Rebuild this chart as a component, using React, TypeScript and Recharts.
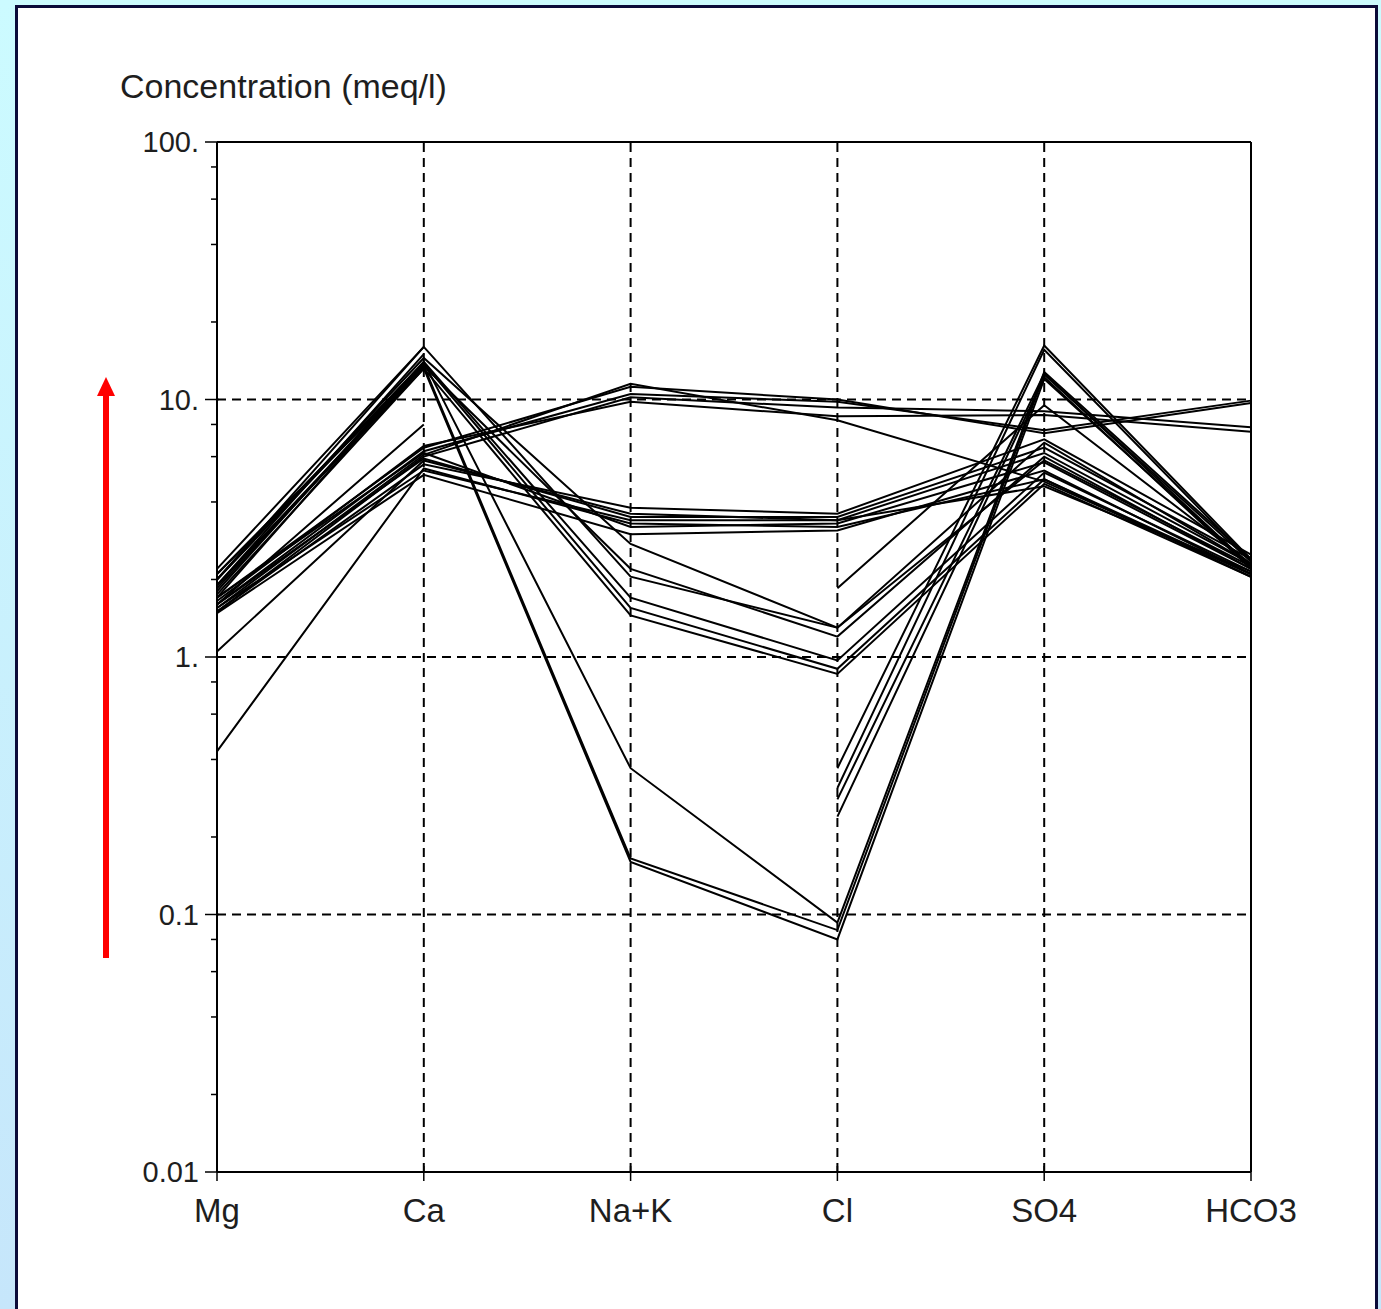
import { LineChart, Line, XAxis, YAxis, ReferenceLine } from "recharts";

const categories = ["Mg", "Ca", "Na+K", "Cl", "SO4", "HCO3"];

// concentrations in meq/l, in the order of categories (null = not analysed)
// high Ca, very low Na+K / Cl
const sA1 = [2.1, 13.5, 0.165, 0.087, 12.5, 2.35];
const sA2 = [1.9, 13.2, 0.16, 0.08, 12.0, 2.25];
const sA3 = [2.0, 14.0, 0.37, 0.093, 12.8, 2.4];
// high Ca, Na+K 1.4 - 2.8
const sB1 = [2.0, 14.5, 2.75, 1.3, 6.8, 2.3];
const sB2 = [1.9, 13.5, 2.2, 1.2, 6.0, 2.2];
const sB3 = [2.2, 16.0, 2.05, 1.3, 5.8, 2.25];
const sB4 = [1.8, 14.0, 1.7, 0.97, 5.2, 2.15];
const sB5 = [2.1, 13.8, 1.55, 0.9, 4.9, 2.1];
const sB6 = [1.75, 13.2, 1.45, 0.86, 4.7, 2.05];
// high Ca, Na+K missing
const sL1 = [2.0, 16.0, null, 0.37, 16.2, 2.4];
const sL2 = [1.9, 15.0, null, 0.31, 15.6, 2.35];
const sL3 = [1.7, 13.8, null, 0.28, 12.6, 2.25];
const sL4 = [1.85, 13.5, null, 0.24, 12.2, 2.2];
const sE1 = [1.6, 8.0, null, 1.85, 9.5, 2.3];
// Na-Cl type
const sC1 = [1.6, 6.3, 10.5, 9.8, 7.6, 9.9];
const sC2 = [1.7, 6.5, 11.2, 10.0, 7.4, 9.7];
const sC3 = [1.5, 6.0, 10.2, 9.3, 9.0, 7.8];
const sC4 = [1.65, 6.6, 9.8, 8.6, 8.7, 7.5];
const sC5 = [1.55, 6.1, 11.5, 8.3, 4.8, 2.1];
// mixed type, Na+K ~ Cl ~ 3.5
const sD1 = [1.5, 5.6, 3.8, 3.6, 7.0, 2.5];
const sD2 = [1.6, 5.9, 3.5, 3.5, 6.5, 2.4];
const sD3 = [1.55, 5.3, 3.4, 3.4, 6.2, 2.3];
const sD4 = [1.7, 6.2, 3.2, 3.3, 5.7, 2.2];
const sD5 = [1.48, 5.1, 3.0, 3.1, 5.3, 2.1];
const sD6 = [0.43, 5.4, 3.3, 3.2, 4.9, 2.05];
const sD7 = [1.05, 5.8, 3.6, 3.4, 4.6, 2.15];

const samples: [string, (number | null)[]][] = [
  ["A1", sA1], ["A2", sA2], ["A3", sA3],
  ["B1", sB1], ["B2", sB2], ["B3", sB3], ["B4", sB4], ["B5", sB5], ["B6", sB6],
  ["L1", sL1], ["L2", sL2], ["L3", sL3], ["L4", sL4], ["E1", sE1],
  ["C1", sC1], ["C2", sC2], ["C3", sC3], ["C4", sC4], ["C5", sC5],
  ["D1", sD1], ["D2", sD2], ["D3", sD3], ["D4", sD4], ["D5", sD5], ["D6", sD6], ["D7", sD7],
];

const majorTicks = [0.01, 0.1, 1, 10, 100];
const majorLabels = ["0.01", "0.1", "1.", "10.", "100."];
const minorSteps = [2, 4, 6, 8];
const gridValues = [0.1, 1, 10];

const yTicks = [
  ...majorTicks,
  ...majorTicks.slice(0, -1).flatMap((d) => minorSteps.map((m) => d * m)),
].sort((a, b) => a - b);

const data = categories.map((name, i) => {
  const row: Record<string, any> = { idx: i, name };
  samples.forEach(([key, vals]) => {
    row[key] = vals[i];
  });
  return row;
});

const FONT = "'Liberation Sans', Arial, sans-serif";
const TEXT = "#1e1e1e";

function YTick(props: any) {
  const { x, y, payload } = props;
  const i = majorTicks.indexOf(payload.value);
  if (i < 0) {
    return <line x1={x - 6} x2={x} y1={y} y2={y} stroke="#000" strokeWidth={1.5} />;
  }
  return (
    <g>
      <line x1={x - 12} x2={x + 2} y1={y} y2={y} stroke="#000" strokeWidth={1.5} />
      <text
        x={x - 18}
        y={y + 10}
        textAnchor="end"
        fontFamily={FONT}
        fontSize={29}
        fill={TEXT}
      >
        {majorLabels[i]}
      </text>
    </g>
  );
}

function XTick(props: any) {
  const { x, y, payload } = props;
  return (
    <g>
      <line x1={x} x2={x} y1={y - 6} y2={y + 9} stroke="#000" strokeWidth={1.5} />
      <text
        x={x}
        y={y + 50}
        textAnchor="middle"
        fontFamily={FONT}
        fontSize={33}
        fill={TEXT}
      >
        {categories[payload.value]}
      </text>
    </g>
  );
}

export default function App() {
  return (
    <div
      style={{
        position: "absolute",
        left: 0,
        top: 0,
        width: 1381,
        height: 1309,
        overflow: "hidden",
        background: "linear-gradient(180deg, #ccfbff 0%, #c6e6fb 100%)",
      }}
    >
      <div
        style={{
          position: "absolute",
          left: 15,
          top: 5,
          width: 1363,
          height: 1400,
          boxSizing: "border-box",
          border: "3px solid #0b0b3a",
          background: "#fff",
        }}
      />
      <div style={{ position: "absolute", left: 0, top: 0 }}>
        <LineChart
          width={1381}
          height={1309}
          data={data}
          margin={{ top: 142, right: 130, bottom: 77, left: 137 }}
        >
          <XAxis
            type="number"
            dataKey="idx"
            domain={[0, 5]}
            ticks={[0, 1, 2, 3, 4, 5]}
            interval={0}
            height={60}
            tickSize={0}
            tickMargin={0}
            tickLine={false}
            axisLine={{ stroke: "#000", strokeWidth: 2 }}
            tick={(p: any) => <XTick {...p} />}
          />
          <YAxis
            type="number"
            scale="log"
            domain={[0.01, 100]}
            allowDataOverflow
            ticks={yTicks}
            interval={0}
            width={80}
            tickSize={0}
            tickMargin={0}
            tickLine={false}
            axisLine={{ stroke: "#000", strokeWidth: 2 }}
            tick={(p: any) => <YTick {...p} />}
          />
          {gridValues.map((v) => (
            <ReferenceLine
              key={`h${v}`}
              y={v}
              stroke="#000"
              strokeWidth={2}
              strokeDasharray="9 6"
            />
          ))}
          {[1, 2, 3, 4].map((v) => (
            <ReferenceLine
              key={`v${v}`}
              x={v}
              stroke="#000"
              strokeWidth={2}
              strokeDasharray="9 6"
            />
          ))}
          <ReferenceLine y={100} stroke="#000" strokeWidth={2} />
          <ReferenceLine x={5} stroke="#000" strokeWidth={2} />
          {samples.map(([key]) => (
            <Line
              key={key}
              type="linear"
              dataKey={key}
              stroke="#000"
              strokeWidth={2}
              dot={false}
              activeDot={false}
              isAnimationActive={false}
            />
          ))}
        </LineChart>
      </div>
      <svg
        width={1381}
        height={1309}
        style={{ position: "absolute", left: 0, top: 0, pointerEvents: "none" }}
      >
        <text x={120} y={98} fontFamily={FONT} fontSize={34} fill={TEXT}>
          Concentration (meq/l)
        </text>
        <line x1={106} x2={106} y1={958} y2={392} stroke="#ff0000" strokeWidth={6} />
        <polygon points="106,377 97,396 115,396" fill="#ff0000" />
      </svg>
    </div>
  );
}
